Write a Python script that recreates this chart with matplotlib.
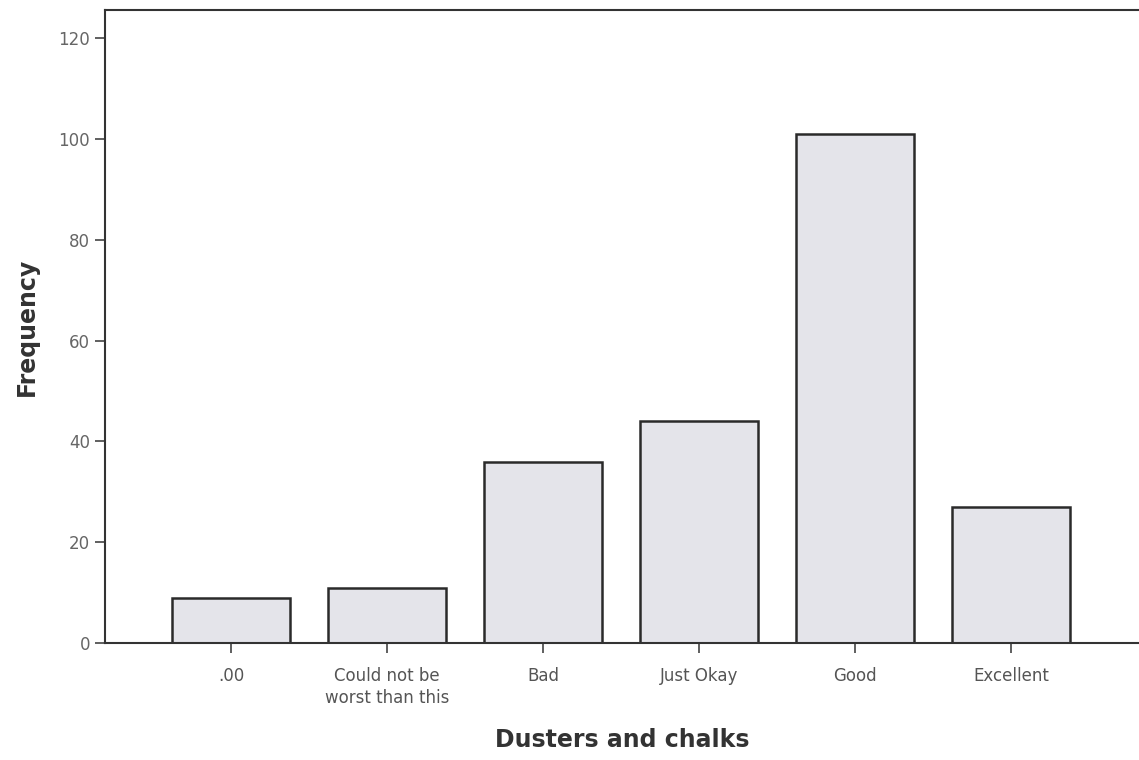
import numpy as np
import matplotlib.pyplot as plt

categories = ['.00', 'Could not be\nworst than this', 'Bad', 'Just Okay', 'Good', 'Excellent']
frequency = [9, 11, 36, 44, 101, 27]
y_ticks = [0, 20, 40, 60, 80, 100, 120]

fig = plt.figure(figsize=(11.39, 7.6), dpi=100)
ax = fig.add_axes([0.092, 0.154, 0.908, 0.833])

x = np.arange(len(categories))
ax.bar(x, frequency, width=0.76, color='#e4e4ea', edgecolor='#2a2a2a', linewidth=1.8)

ax.set_xlim(-0.81, 5.82)
ax.set_ylim(0, 125.6)
ax.set_yticks(y_ticks)
ax.set_xticks(x)
ax.set_xticklabels(categories, fontsize=12, color='#555555', linespacing=1.35)
ax.tick_params(axis='y', labelsize=12, labelcolor='#666666', length=7, width=1.2, color='#444444')
ax.tick_params(axis='x', length=7, width=1.2, color='#444444', pad=10)

for side in ['left', 'bottom', 'top']:
    ax.spines[side].set_color('#333333')
    ax.spines[side].set_linewidth(1.5)
ax.spines['right'].set_visible(False)

ax.set_ylabel('Frequency', fontsize=17, fontweight='bold', color='#333333', labelpad=14)
ax.set_xlabel('Dusters and chalks', fontsize=17, fontweight='bold', color='#333333', labelpad=15)

fig.savefig('out.png', dpi=100)
